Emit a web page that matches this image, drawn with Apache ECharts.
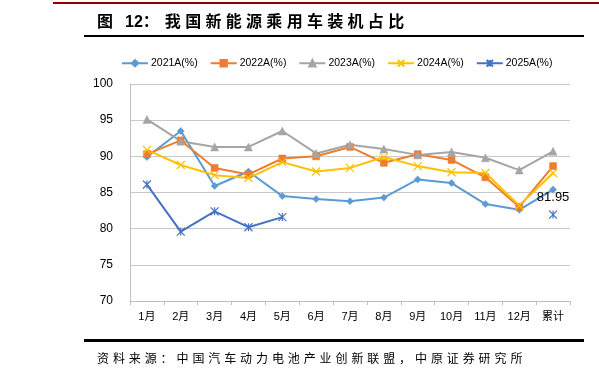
<!DOCTYPE html>
<html>
<head>
<meta charset="utf-8">
<script src="https://cdn.jsdelivr.net/npm/echarts@6/dist/echarts.min.js"></script>
<style>
html,body{margin:0;padding:0;background:#fff;}
#wrap{position:relative;width:599px;height:378px;overflow:hidden;background:#fff;}
#chart{position:absolute;left:0;top:0;width:599px;height:378px;}
.ln{position:absolute;}
.txt{position:absolute;white-space:nowrap;color:#000;}
</style>
</head>
<body>
<div id="wrap">
  <div id="chart"></div>
  <div class="ln" style="left:53px;top:2px;width:546px;height:2px;background:#8B0000;"></div>
  <div class="txt" style="left:97px;top:8px;font:bold 16px 'Noto Sans CJK SC';line-height:24px;"><span style="margin-right:12px;">图</span><span style="font-family:'Liberation Sans',Arial;">12</span><span style="margin-right:6px;">：</span><span style="letter-spacing:4.3px;">我国新能源乘用车装机占比</span></div>
  <div class="ln" style="left:84px;top:35px;width:500px;height:2px;background:#000;"></div>
  <div class="ln" style="left:84px;top:339px;width:500px;height:3px;background:#000;"></div>
  <div class="txt" style="left:97px;top:349px;font:12px 'Noto Sans CJK SC';letter-spacing:3.9px;line-height:18px;">资料来源：中国汽车动力电池产业创新联盟，中原证券研究所</div>
</div>
<script>
var categories = ['1月','2月','3月','4月','5月','6月','7月','8月','9月','10月','11月','12月','累计'];
var seriesNames = ['2021A(%)','2022A(%)','2023A(%)','2024A(%)','2025A(%)'];
var s2021 = [89.9, 93.5, 85.9, 87.9, 84.5, 84.1, 83.8, 84.3, 86.8, 86.3, 83.4, 82.6, 85.4];
var s2022 = [90.3, 92.2, 88.4, 87.5, 89.7, 90.0, 91.3, 89.1, 90.3, 89.5, 87.1, 83.0, 88.65];
var s2023 = [95.1, 92.1, 91.3, 91.3, 93.5, 90.4, 91.6, 91.0, 90.2, 90.6, 89.8, 88.1, 90.7];
var s2024 = [90.9, 88.8, 87.4, 87.0, 89.2, 87.9, 88.4, 89.9, 88.65, 87.8, 87.7, 83.2, 87.7];
var s2025 = [86.1, 79.6, 82.4, 80.2, 81.6, null, null, null, null, null, null, null, 81.95];
var yTicks = {min: 70, max: 100, interval: 5};

var colors = ['#5B9BD5','#ED7D31','#A5A5A5','#FFC000','#4472C4'];
var symbols = ['diamond','rect','triangle','path://M0,0L10,10M10,0L0,10','path://M5,0L5,10M0,0L10,10M10,0L0,10'];
var sizes = [7,7,8,8,8];
var datas = [s2021, s2022, s2023, s2024, s2025];

var series = datas.map(function(d, i){
  var data = d.slice();
  if (i === 4) {
    var last = data.length - 1;
    data[last] = {value: data[last], label: {show: true, position: 'top', distance: 6, fontSize: 13, color: '#000', fontFamily: 'Liberation Sans, Arial', formatter: function(p){ return p.value.toFixed(2); }}};
  }
  return {
    name: seriesNames[i],
    type: 'line',
    data: data,
    symbol: symbols[i],
    symbolSize: sizes[i],
    showAllSymbol: true,
    connectNulls: false,
    lineStyle: {width: 2, color: colors[i]},
    itemStyle: {color: colors[i], borderColor: colors[i], borderWidth: (i >= 3 ? 1.2 : 0.5)},
    emphasis: {disabled: true},
    animation: false
  };
});

var chart = echarts.init(document.getElementById('chart'), null, {renderer: 'canvas'});
chart.setOption({
  animation: false,
  color: colors,
  textStyle: {fontFamily: 'Liberation Sans, Arial, Noto Sans CJK SC'},
  legend: {
    data: seriesNames,
    left: 116,
    top: 53,
    itemWidth: 26,
    itemHeight: 8,
    itemGap: 12,
    textStyle: {fontSize: 10.5, color: '#000', fontFamily: 'Liberation Sans, Arial, Noto Sans CJK SC', padding: [0,0,0,-2]}
  },
  grid: {left: 130, right: 29, top: 84, bottom: 77, containLabel: false},
  xAxis: {
    type: 'category',
    data: categories,
    boundaryGap: true,
    axisLine: {lineStyle: {color: '#BFBFBF', width: 1}},
    axisTick: {show: true, length: 4, lineStyle: {color: '#BFBFBF'}},
    axisLabel: {fontSize: 11, color: '#000', margin: 10, interval: 0, fontFamily: 'Liberation Sans, Arial, Noto Sans CJK SC'}
  },
  yAxis: {
    type: 'value',
    min: yTicks.min,
    max: yTicks.max,
    interval: yTicks.interval,
    axisLine: {show: true, lineStyle: {color: '#BFBFBF'}},
    axisTick: {show: false},
    axisLabel: {fontSize: 12, color: '#000', margin: 17},
    splitLine: {lineStyle: {color: '#C8C8C8', width: 1}}
  },
  series: series
});
</script>
</body>
</html>
